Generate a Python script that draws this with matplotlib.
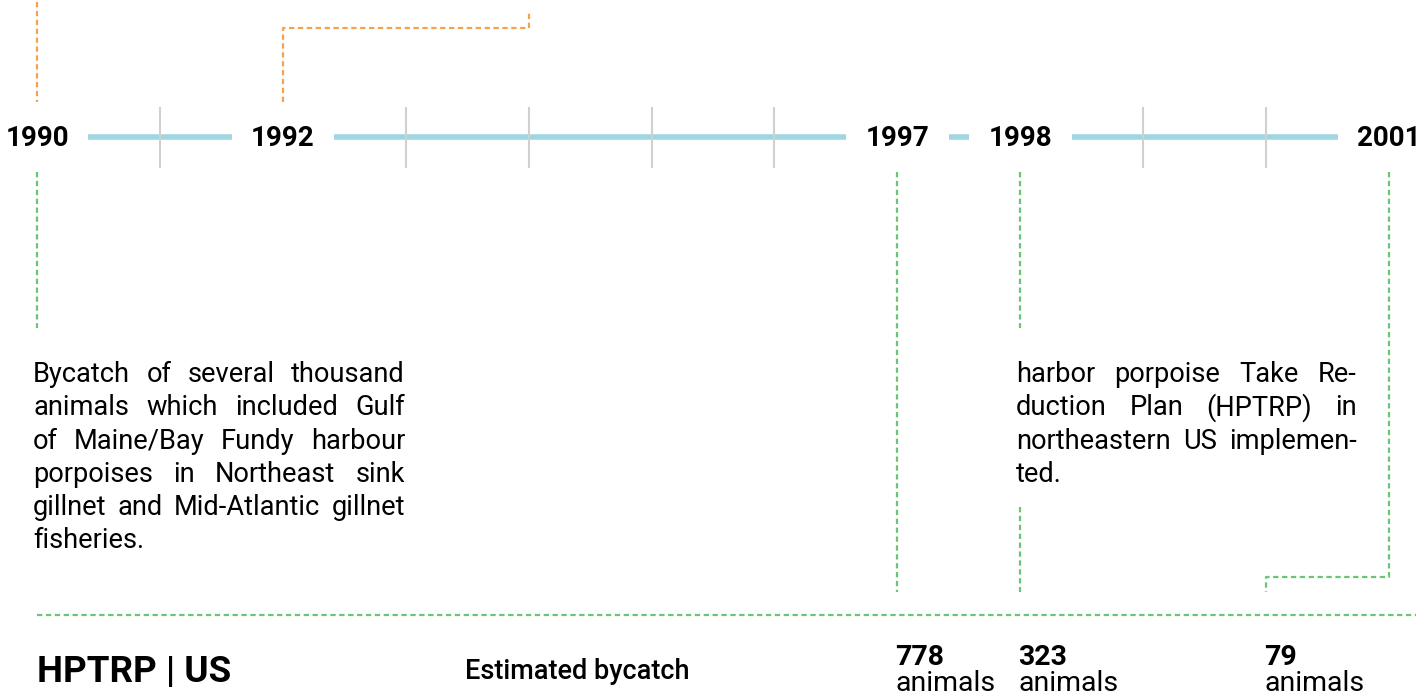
import matplotlib
matplotlib.use("Agg")
import matplotlib.pyplot as plt

plt.rcParams['font.family'] = ['Roboto', 'DejaVu Sans']

# timeline data
first_year = 1990
last_year = 2001
label_years = [1990, 1992, 1997, 1998, 2001]
tick_years = [1991, 1993, 1994, 1995, 1996, 1999, 2000]

bycatch_years = [1997, 1998, 2000]
bycatch_values = ["778", "323", "79"]

left_note = [
    "Bycatch of several thousand",
    "animals which included Gulf",
    "of Maine/Bay Fundy harbour",
    "porpoises in Northeast sink",
    "gillnet and Mid-Atlantic gillnet",
    "fisheries.",
]
right_note = [
    "harbor porpoise Take Re-",
    "duction Plan (HPTRP) in",
    "northeastern US implemen-",
    "ted.",
]

W, H = 1416, 695
X0_PX = 37.0      # pixel position of first year
STEP = 122.9      # pixels per year

BLUE = "#a0d6e2"
GREY = "#d0d0d0"
ORANGE = "#f4a24b"
GREEN = "#6cc476"
DASH = (0, (2.4, 1.6))
LW = 1.6

fig = plt.figure(figsize=(W / 100, H / 100), dpi=100)
ax = fig.add_axes([0, 0, 1, 1])
ax.set_xlim(first_year - X0_PX / STEP, first_year + (W - X0_PX) / STEP)
ax.set_ylim(H, 0)
ax.axis("off")


def px(x):
    return first_year + (x - X0_PX) / STEP


# main line
ax.plot([first_year, last_year], [137, 137], color=BLUE, lw=4, solid_capstyle="butt", zorder=1)
for y in tick_years:
    ax.plot([y, y], [108, 167], color=GREY, lw=1.5, zorder=2)
for y in label_years:
    ax.text(y, 138, str(y), ha="center", va="center", fontsize=20, fontweight="bold",
            bbox=dict(boxstyle="square,pad=0.7", fc="white", ec="none"), zorder=3)

# orange connectors
ax.plot([1990, 1990], [2, 102], color=ORANGE, lw=LW, ls=DASH)
ax.plot([1992, 1992, 1994, 1994], [102, 28, 28, 12], color=ORANGE, lw=LW, ls=DASH)

# green connectors
ax.plot([1990, 1990], [172, 328], color=GREEN, lw=LW, ls=DASH)
ax.plot([1997, 1997], [172, 592], color=GREEN, lw=LW, ls=DASH)
ax.plot([1998, 1998], [172, 328], color=GREEN, lw=LW, ls=DASH)
ax.plot([1998, 1998], [507, 592], color=GREEN, lw=LW, ls=DASH)
ax.plot([2001, 2001, 2000, 2000], [172, 577, 577, 592], color=GREEN, lw=LW, ls=DASH)
ax.plot([1990, px(W)], [615, 615], color=GREEN, lw=LW, ls=DASH)

renderer = fig.canvas.get_renderer()


def justify(lines, x_left, x_right, y0, dy, size):
    for i, line in enumerate(lines):
        y = y0 + i * dy
        words = line.split(" ")
        if i == len(lines) - 1:
            ax.text(px(x_left), y, line, fontsize=size, ha="left", va="baseline")
            continue
        arts = [ax.text(0, y, w, fontsize=size, ha="left", va="baseline") for w in words]
        widths = [a.get_window_extent(renderer).width for a in arts]
        gap = (x_right - x_left - sum(widths)) / (len(words) - 1)
        x = x_left
        for a, w in zip(arts, widths):
            a.set_x(px(x))
            x += w + gap


justify(left_note, 33, 405, 382, 33.3, 19.6)
justify(right_note, 1016, 1357, 382, 33.3, 19.6)

ax.text(px(37), 682, "HPTRP | US", fontsize=26.5, fontweight="bold", ha="left", va="baseline")
ax.text(px(465), 679, "Estimated bycatch", fontsize=19.5, fontweight="medium", ha="left", va="baseline")
for y, v in zip(bycatch_years, bycatch_values):
    ax.text(y - 2 / STEP, 665, v, fontsize=20.5, fontweight="bold", ha="left", va="baseline")
    ax.text(y - 2 / STEP, 691, "animals", fontsize=20.5, ha="left", va="baseline")

fig.savefig("out.png", dpi=100)
